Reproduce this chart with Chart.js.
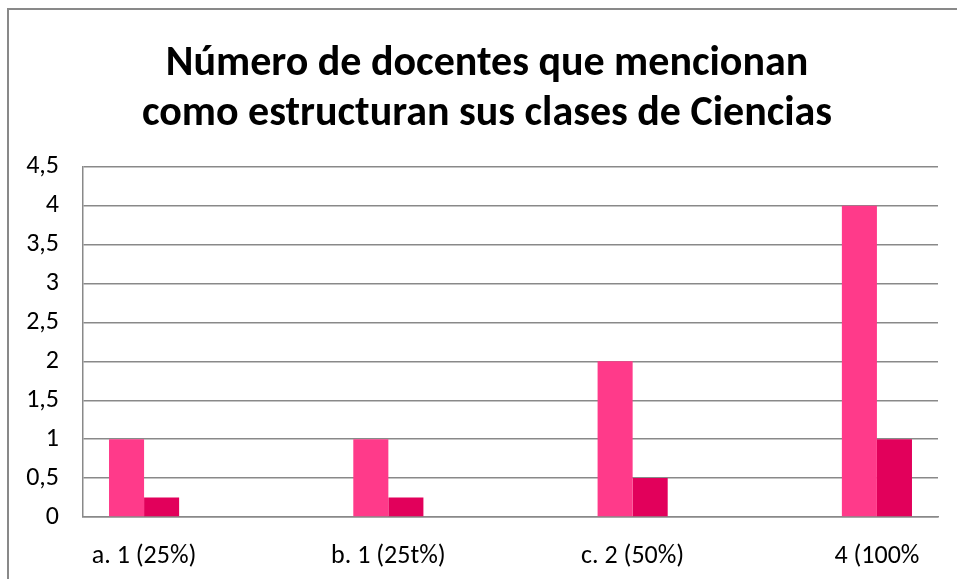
<!DOCTYPE html>
<html>
<head>
<meta charset="utf-8">
<script src="https://cdn.jsdelivr.net/npm/chart.js@4"></script>
<style>
    html, body { margin: 0; padding: 0; background: #fff; }
    #frame {
        position: absolute; left: 7px; top: 8px; width: 1000px; height: 700px;
        border-left: 2px solid #898989; border-top: 2px solid #898989;
    }
    #wrap { position: absolute; left: 0; top: 0; width: 957px; height: 579px; }
</style>
</head>
<body>
<div id="frame"></div>
<div id="wrap"><canvas id="myChart"></canvas></div>
<script>
// Categories and the two series.
const categories = ['a. 1 (25%)', 'b. 1 (25t%)', 'c. 2 (50%)', '4 (100%'];
const docentes = [1, 1, 2, 4];
const proporcion = [0.25, 0.25, 0.5, 1];
const titleLines = ['Número de docentes que mencionan', 'como estructuran sus clases de Ciencias'];
const fontFamily = "Carlito, Lato, 'Open Sans', sans-serif";
const gridGray = '#898989';

const toPoints = (values) => values.map((v, i) => ({ x: i, y: v }));

const ctx = document.getElementById('myChart').getContext('2d');
const chart = new Chart(ctx, {
    type: 'bar',
    data: {
        datasets: [{
            label: 'Docentes',
            data: toPoints(docentes),
            backgroundColor: '#FF3A8A',
            categoryPercentage: 0.287,
            barPercentage: 1
        }, {
            label: 'Proporción',
            data: toPoints(proporcion),
            backgroundColor: '#E2005B',
            categoryPercentage: 0.287,
            barPercentage: 1
        }]
    },
    options: {
        responsive: true,
        maintainAspectRatio: false,
        animation: false,
        layout: { padding: { left: 18, right: 1, top: 0, bottom: 0 } },
        plugins: {
            legend: { display: false },
            tooltip: { enabled: false },
            title: {
                display: true,
                text: titleLines,
                color: '#000',
                font: { family: fontFamily, size: 42, weight: 'bold', lineHeight: 1.2 },
                padding: { top: 39, bottom: 27 }
            }
        },
        scales: {
            x: {
                type: 'linear',
                offset: false,
                min: -0.25,
                max: 3.25,
                afterBuildTicks: (scale) => {
                    scale.ticks = categories.map((c, i) => ({ value: i }));
                },
                afterFit: (scale) => { scale.height = 62; },
                grid: { display: false, drawTicks: false, offset: false },
                border: { display: true, color: gridGray, width: 1.5 },
                ticks: {
                    color: '#000',
                    padding: 24,
                    autoSkip: false,
                    maxRotation: 0,
                    font: { family: fontFamily, size: 26 },
                    callback: (value) => categories[value]
                }
            },
            y: {
                min: 0,
                max: 4.5,
                afterFit: (scale) => { scale.width = 65; },
                grid: { color: gridGray, lineWidth: 1.5, drawTicks: false },
                border: { display: true, color: gridGray, width: 1.5 },
                ticks: {
                    stepSize: 0.5,
                    color: '#000',
                    padding: 24,
                    font: { family: fontFamily, size: 26 },
                    callback: (value) => String(value).replace('.', ',')
                }
            },
            // empty margin on the right so the title centres like the original
            yRight: {
                position: 'right',
                display: true,
                afterFit: (scale) => { scale.width = 18; },
                grid: { display: false, drawTicks: false },
                border: { display: false },
                ticks: { display: false }
            }
        }
    }
});
</script>
</body>
</html>
